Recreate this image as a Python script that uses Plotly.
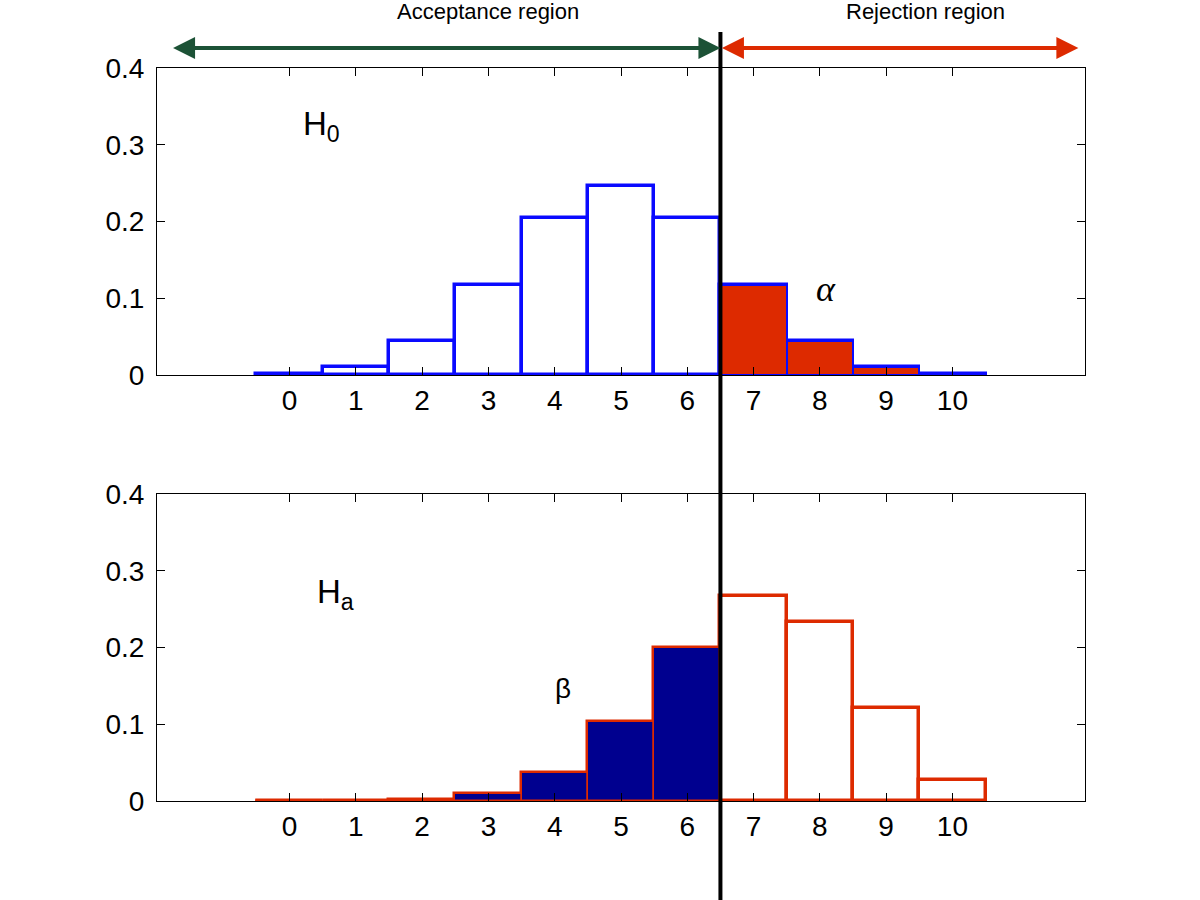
import plotly.graph_objects as go

# ---- data ----
k_values = [0, 1, 2, 3, 4, 5, 6, 7, 8, 9, 10]
h0_prob = [0.001, 0.010, 0.044, 0.117, 0.205, 0.246, 0.205, 0.117, 0.044, 0.010, 0.001]
ha_prob = [0.0001, 0.0002, 0.0014, 0.009, 0.037, 0.103, 0.200, 0.267, 0.233, 0.121, 0.028]
critical_value = 6.5
y_ticks = [0, 0.1, 0.2, 0.3, 0.4]
y_tick_text = ["0", "0.1", "0.2", "0.3", "0.4"]
x_range = [-2, 12]
y_range = [0, 0.4]

BLUE = "#0a0aff"
RED = "#dd2a00"
NAVY = "#00008f"
GREEN = "#1c5236"
FONT = "Liberation Sans, Arial, sans-serif"

alpha_k = [k for k in k_values if k > critical_value]
alpha_p = [p for k, p in zip(k_values, h0_prob) if k > critical_value]
beta_k = [k for k in k_values if k < critical_value]
beta_p = [p for k, p in zip(k_values, ha_prob) if k < critical_value]

fig = go.Figure()

# top panel: H0
fig.add_trace(go.Bar(x=k_values, y=h0_prob, width=1, xaxis="x", yaxis="y",
                     marker=dict(color="white", line=dict(color=BLUE, width=3.5)),
                     cliponaxis=False, showlegend=False, hoverinfo="skip"))
fig.add_trace(go.Bar(x=alpha_k, y=alpha_p, width=1, xaxis="x", yaxis="y",
                     marker=dict(color=RED, line=dict(color=BLUE, width=2)),
                     cliponaxis=False, showlegend=False, hoverinfo="skip"))

# bottom panel: Ha
fig.add_trace(go.Bar(x=k_values, y=ha_prob, width=1, xaxis="x2", yaxis="y2",
                     marker=dict(color="white", line=dict(color=RED, width=3.5)),
                     cliponaxis=False, showlegend=False, hoverinfo="skip"))
fig.add_trace(go.Bar(x=beta_k, y=beta_p, width=1, xaxis="x2", yaxis="y2",
                     marker=dict(color=NAVY, line=dict(color=RED, width=1.5)),
                     cliponaxis=False, showlegend=False, hoverinfo="skip"))

W, H = 1200, 900


def px_x(p):
    return p / W


def px_y(p):
    return 1 - p / H


xdom = [px_x(157), px_x(1085)]
ydom_top = [px_y(375), px_y(68)]
ydom_bot = [px_y(801), px_y(494)]

axis_common = dict(showgrid=False, zeroline=False, showline=True, linecolor="black",
                   linewidth=1, mirror="ticks", ticks="inside", ticklen=8,
                   tickcolor="black", tickwidth=1, automargin=False,
                   tickfont=dict(family=FONT, size=28, color="black"))

fig.update_layout(
    template="none",
    width=W, height=H, autosize=False,
    margin=dict(l=0, r=0, t=0, b=0, pad=0),
    paper_bgcolor="white", plot_bgcolor="white", barmode="overlay", bargap=0,
    showlegend=False, hovermode=False,
    xaxis=dict(domain=xdom, range=x_range, tickvals=k_values, anchor="y", **axis_common),
    yaxis=dict(domain=ydom_top, range=y_range, tickvals=y_ticks, ticklabelstandoff=6,
               ticktext=y_tick_text, anchor="x", **axis_common),
    xaxis2=dict(domain=xdom, range=x_range, tickvals=k_values, anchor="y2", **axis_common),
    yaxis2=dict(domain=ydom_bot, range=y_range, tickvals=y_ticks, ticklabelstandoff=6,
                ticktext=y_tick_text, anchor="x2", **axis_common),
)

# critical value line
fig.add_shape(type="line", xref="x", yref="paper", x0=critical_value, x1=critical_value,
              y0=0, y1=px_y(32), line=dict(color="black", width=4), layer="above")

arrow_y = px_y(48)
# acceptance arrow
fig.add_annotation(xref="x", yref="paper", x=critical_value, y=arrow_y,
                   axref="x", ayref="pixel", ax=-1.78, ay=0, text="",
                   showarrow=True, arrowhead=2, startarrowhead=2, arrowside="end+start",
                   arrowsize=1.1, startarrowsize=1.1, arrowwidth=4, arrowcolor=GREEN)
# rejection arrow
fig.add_annotation(xref="x", yref="paper", x=11.9, y=arrow_y,
                   axref="x", ayref="pixel", ax=critical_value, ay=0, text="",
                   showarrow=True, arrowhead=2, startarrowhead=2, arrowside="end+start",
                   arrowsize=1.1, startarrowsize=1.1, arrowwidth=4, arrowcolor=RED)

fig.add_annotation(xref="x", yref="paper", x=3.0, y=1, yanchor="top", yshift=3,
                   text="Acceptance region", showarrow=False,
                   font=dict(family=FONT, size=22, color="black"))
fig.add_annotation(xref="x", yref="paper", x=9.6, y=1, yanchor="top", yshift=3,
                   text="Rejection region", showarrow=False,
                   font=dict(family=FONT, size=22, color="black"))

fig.add_annotation(xref="x", yref="y", x=0.48, y=0.325, text="H<sub>0</sub>",
                   showarrow=False, font=dict(family=FONT, size=33, color="black"))
fig.add_annotation(xref="x2", yref="y2", x=0.7, y=0.27, text="H<sub>a</sub>",
                   showarrow=False, font=dict(family=FONT, size=33, color="black"))
fig.add_annotation(xref="x", yref="y", x=8.1, y=0.112, text="<i>α</i>",
                   showarrow=False, font=dict(family="Liberation Serif, serif", size=36, color="black"))
fig.add_annotation(xref="x2", yref="y2", x=4.12, y=0.147, text="β",
                   showarrow=False, font=dict(family=FONT, size=28, color="black"))

fig.write_html("out.html", config={"displayModeBar": False},
               post_script="document.body.style.margin='0px';")
